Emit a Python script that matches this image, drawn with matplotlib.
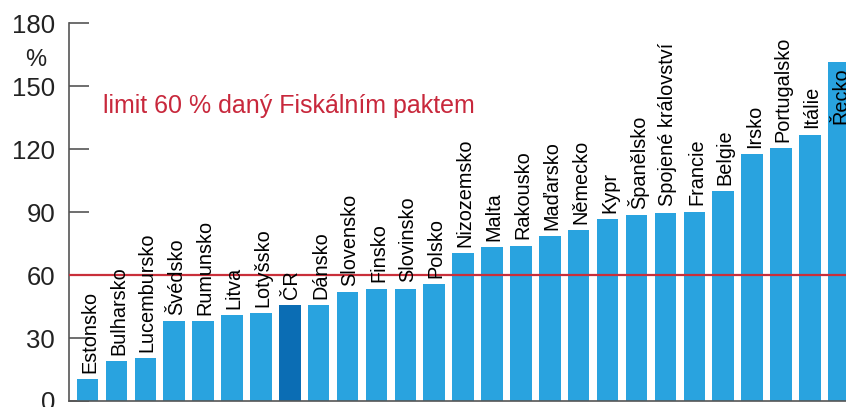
import matplotlib
matplotlib.use("Agg")
import matplotlib.pyplot as plt
import numpy as np

countries = ["Estonsko", "Bulharsko", "Lucembursko", "Švédsko", "Rumunsko", "Litva",
             "Lotyšsko", "ČR", "Dánsko", "Slovensko", "Finsko", "Slovinsko", "Polsko",
             "Nizozemsko", "Malta", "Rakousko", "Maďarsko", "Německo", "Kypr",
             "Španělsko", "Spojené království", "Francie", "Belgie", "Irsko",
             "Portugalsko", "Itálie", "Řecko"]
values = [10.3, 19.0, 20.3, 38.0, 38.0, 41.0, 42.0, 45.7, 45.7, 52.0, 53.5, 53.5, 55.7,
          70.6, 73.2, 74.0, 78.4, 81.4, 86.5, 88.6, 89.8, 90.3, 99.9, 117.5, 120.5,
          127.0, 161.6]
highlight = "ČR"
limit = 60
yticks = [0, 30, 60, 90, 120, 150, 180]
limit_text = "limit 60 % daný Fiskálním paktem"

plt.rcParams['font.family'] = ['Liberation Sans', 'DejaVu Sans']

fig = plt.figure(figsize=(8.46, 4.07), dpi=100)
ax = fig.add_axes([69/846, 6/407, 1 - 69/846, 377.7/407])

x = np.arange(len(countries))
colors = ['#0b6db4' if c == highlight else '#29a3df' for c in countries]
ax.bar(x, values, width=0.745, color=colors, zorder=2)

ax.axhline(limit, color='#c92f3a', linewidth=1.6, zorder=3)

for i, (c, v) in enumerate(zip(countries, values)):
    ypos = v if v < 130 else 129
    ax.annotate(c, xy=(i, ypos), xytext=(1.5, 4.5), textcoords='offset points',
                rotation=90, ha='center', va='bottom', fontsize=14.3,
                color='black', zorder=4)

ax.text(0.55, 140.5, limit_text, color='#c8283c', fontsize=18, va='center', ha='left')

ax.set_xlim(-0.64, 26.25)
ax.set_ylim(0, 180)
ax.set_yticks(yticks)
ax.set_yticklabels([str(t) for t in yticks], fontsize=18.5, color='#222222')
ax.tick_params(axis='y', direction='in', length=14.5, width=1.2, color='#555555', pad=10)
ax.set_xticks([])

for s in ['top', 'right']:
    ax.spines[s].set_visible(False)
ax.spines['left'].set_color('#555555')
ax.spines['left'].set_linewidth(1.2)
ax.spines['bottom'].set_color('#555555')
ax.spines['bottom'].set_linewidth(1.2)

fig.text(36/846, 1 - 60/407, "%", fontsize=17, ha='center', va='center', color='#222222')

fig.savefig("out.png", dpi=100)
